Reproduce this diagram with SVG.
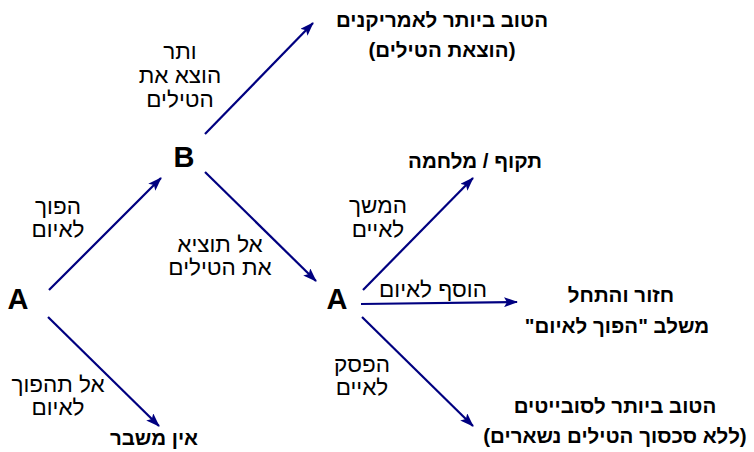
<svg xmlns="http://www.w3.org/2000/svg" width="754" height="452" viewBox="0 0 754 452">
<style>
.lbl{font-family:"Liberation Sans",Arial,sans-serif;font-size:22.5px;fill:#000;text-anchor:middle;direction:rtl}
.out{font-family:"Liberation Sans",Arial,sans-serif;font-size:20.5px;font-weight:bold;fill:#000;text-anchor:middle;direction:rtl}
.node{font-family:"Liberation Sans",Arial,sans-serif;font-size:29px;font-weight:bold;fill:#000;text-anchor:middle}
.edge{stroke:#000080;stroke-width:2.2;fill:none;marker-end:url(#ah)}
</style>
<defs>
<marker id="ah" viewBox="0 0 14 10" refX="13" refY="5" markerWidth="14" markerHeight="10" markerUnits="userSpaceOnUse" orient="auto">
<path d="M0,0 L14,5 L0,10 L3,5 z" fill="#000080"/>
</marker>
</defs>
<rect width="754" height="452" fill="#fff"/>
<g id="connectors">
<line class="edge" x1="49" y1="290" x2="161" y2="178"/>
<line class="edge" x1="205" y1="134" x2="313" y2="23"/>
<line class="edge" x1="205" y1="172" x2="316" y2="281"/>
<line class="edge" x1="48" y1="317" x2="159" y2="426"/>
<line class="edge" x1="363" y1="290" x2="473" y2="178"/>
<line class="edge" x1="361" y1="304" x2="517" y2="302"/>
<line class="edge" x1="362" y1="317" x2="473" y2="426"/>
</g>
<g id="node-A1"><text class="node" x="18" y="309">A</text></g>
<g id="node-B"><text class="node" x="184" y="167">B</text></g>
<g id="node-A2"><text class="node" x="337" y="309">A</text></g>
<g id="label-ab"><text class="lbl" x="58" y="214">הפוך</text><text class="lbl" x="58" y="237">לאיום</text></g>
<g id="label-bt"><text class="lbl" x="180" y="59">ותר</text><text class="lbl" x="180" y="83">הוצא את</text><text class="lbl" x="180" y="107">הטילים</text></g>
<g id="label-ba"><text class="lbl" x="220" y="252">אל תוציא</text><text class="lbl" x="220" y="275">את הטילים</text></g>
<g id="label-an"><text class="lbl" x="58" y="392">אל תהפוך</text><text class="lbl" x="58" y="415">לאיום</text></g>
<g id="label-aw"><text class="lbl" x="378" y="213">המשך</text><text class="lbl" x="378" y="237">לאיים</text></g>
<g id="label-ar"><text class="lbl" x="433" y="297">הוסף לאיום</text></g>
<g id="label-as"><text class="lbl" x="362" y="372">הפסק</text><text class="lbl" x="362" y="395">לאיים</text></g>
<g id="out-us"><text class="out" x="442" y="27">הטוב ביותר לאמריקנים</text><text class="out" x="442" y="57">(הוצאת הטילים)</text></g>
<g id="out-war"><text class="out" x="475" y="168">תקוף / מלחמה</text></g>
<g id="out-restart"><text class="out" x="621" y="302">חזור והתחל</text><text class="out" x="617" y="333">משלב "הפוך לאיום"</text></g>
<g id="out-none"><text class="out" x="154" y="445">אין משבר</text></g>
<g id="out-su"><text class="out" x="615" y="413">הטוב ביותר לסובייטים</text><text class="out" x="615" y="443">(ללא סכסוך הטילים נשארים)</text></g>
</svg>
